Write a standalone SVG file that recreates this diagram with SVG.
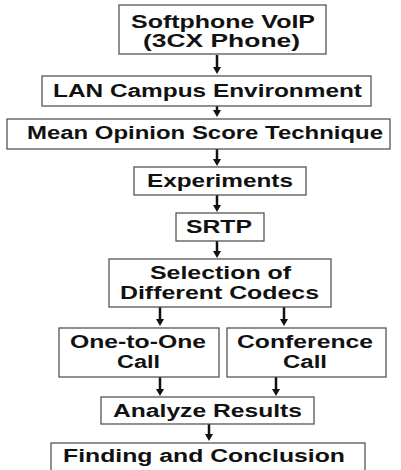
<svg xmlns="http://www.w3.org/2000/svg" width="401" height="470" viewBox="0 0 401 470">
<style>
rect.box{fill:#fff;stroke:#555;stroke-width:1.3}
text{font-family:"Liberation Sans",Arial,sans-serif;font-weight:bold;font-size:18px;fill:#111}
.shaft{stroke:#111;stroke-width:2.5}
.head{fill:#111}
</style>
<defs>
<g id="ah"><polygon class="head" points="-4,-7 4,-7 0,0"/></g>
</defs>
<rect width="401" height="470" fill="#fff"/>
<g id="connectors">
<line class="shaft" x1="217" y1="55" x2="217" y2="68"/><use href="#ah" x="217" y="74"/>
<line class="shaft" x1="217" y1="106" x2="217" y2="111"/><use href="#ah" x="217" y="117"/>
<line class="shaft" x1="217" y1="149" x2="217" y2="160"/><use href="#ah" x="217" y="166"/>
<line class="shaft" x1="217" y1="195" x2="217" y2="206"/><use href="#ah" x="217" y="212"/>
<line class="shaft" x1="217" y1="241" x2="217" y2="252"/><use href="#ah" x="217" y="258"/>
<line class="shaft" x1="160" y1="307" x2="160" y2="320"/><use href="#ah" x="160" y="326"/>
<line class="shaft" x1="284" y1="307" x2="284" y2="320"/><use href="#ah" x="284" y="326"/>
<line class="shaft" x1="160" y1="377" x2="160" y2="390"/><use href="#ah" x="160" y="396"/>
<line class="shaft" x1="276" y1="377" x2="276" y2="390"/><use href="#ah" x="276" y="396"/>
<line class="shaft" x1="209" y1="424" x2="209" y2="435"/><use href="#ah" x="209" y="441"/>
</g>
<g id="n1"><rect class="box" x="119" y="5" width="207" height="49"/>
<text x="131" y="28" textLength="184" lengthAdjust="spacingAndGlyphs">Softphone VoIP</text>
<text x="143" y="47" textLength="157" lengthAdjust="spacingAndGlyphs">(3CX Phone)</text></g>
<g id="n2"><rect class="box" x="42" y="76" width="329" height="30"/>
<text x="53" y="97" textLength="309" lengthAdjust="spacingAndGlyphs">LAN Campus Environment</text></g>
<g id="n3"><rect class="box" x="7" y="119" width="383" height="30"/>
<text x="27" y="139" textLength="356" lengthAdjust="spacingAndGlyphs">Mean Opinion Score Technique</text></g>
<g id="n4"><rect class="box" x="134" y="167" width="172" height="28"/>
<text x="147" y="187" textLength="146" lengthAdjust="spacingAndGlyphs">Experiments</text></g>
<g id="n5"><rect class="box" x="176" y="213" width="88" height="28"/>
<text x="186" y="233" textLength="66" lengthAdjust="spacingAndGlyphs">SRTP</text></g>
<g id="n6"><rect class="box" x="109" y="259" width="222" height="48"/>
<text x="150" y="279" textLength="141" lengthAdjust="spacingAndGlyphs">Selection of</text>
<text x="120" y="299" textLength="199" lengthAdjust="spacingAndGlyphs">Different Codecs</text></g>
<g id="n7"><rect class="box" x="59" y="328" width="160" height="49"/>
<text x="70" y="348" textLength="136" lengthAdjust="spacingAndGlyphs">One-to-One</text>
<text x="117" y="368" textLength="43" lengthAdjust="spacingAndGlyphs">Call</text></g>
<g id="n8"><rect class="box" x="227" y="328" width="159" height="49"/>
<text x="237" y="348" textLength="136" lengthAdjust="spacingAndGlyphs">Conference</text>
<text x="283" y="368" textLength="44" lengthAdjust="spacingAndGlyphs">Call</text></g>
<g id="n9"><rect class="box" x="101" y="397" width="213" height="27"/>
<text x="113" y="417" textLength="189" lengthAdjust="spacingAndGlyphs">Analyze Results</text></g>
<g id="n10"><rect class="box" x="51" y="443" width="314" height="40"/>
<text x="63" y="462" textLength="282" lengthAdjust="spacingAndGlyphs">Finding and Conclusion</text></g>
</svg>
